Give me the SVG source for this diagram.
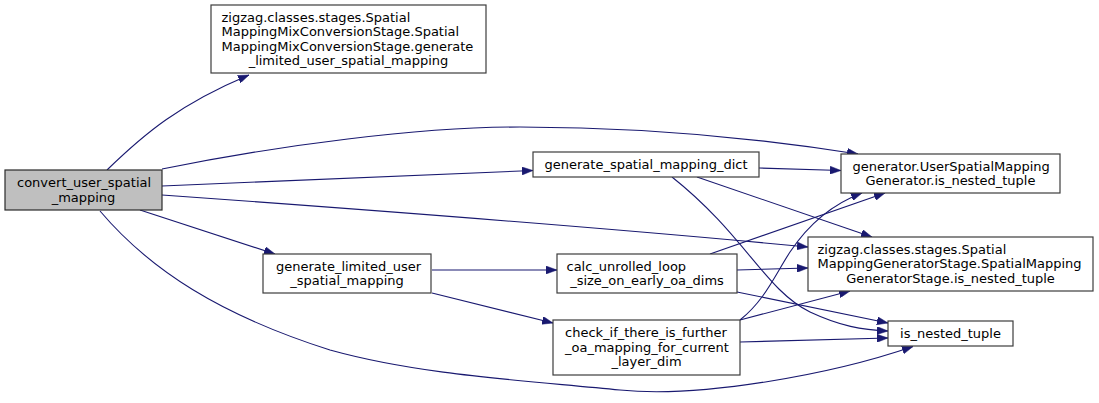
<svg xmlns="http://www.w3.org/2000/svg" width="1099" height="403" viewBox="0 0 1099 403">
<style>
.n rect{fill:#fff;stroke:#3c3c3c;stroke-width:1.2}
.n.root rect{fill:#bfbfbf;stroke:#2a2a2a}
text{font-family:"DejaVu Sans",sans-serif;font-size:13px;fill:#000}
.c{text-anchor:middle}
.e path{fill:none;stroke:#191970;stroke-width:1.1}
</style>
<defs>
<marker id="ah" markerUnits="userSpaceOnUse" viewBox="0 0 11 8" refX="11" refY="4" markerWidth="11" markerHeight="8" orient="auto">
<path d="M0,0 L11,4 L0,8 z" fill="#191970" stroke="#191970" stroke-width="0.5"/>
</marker>
</defs>
<rect width="1099" height="403" fill="#fff"/>
<g class="e" id="connectors">
<path marker-end="url(#ah)" d="M107,170 C145,133 180,104 249,75"/>
<path marker-end="url(#ah)" d="M162,169 C280,145 420,127 520,127 C650,127 770,140 858,154"/>
<path marker-end="url(#ah)" d="M162,186 L533,170.5"/>
<path marker-end="url(#ah)" d="M162,195 C400,212 650,232 808,247"/>
<path marker-end="url(#ah)" d="M140,210 L275,254"/>
<path marker-end="url(#ah)" d="M100,211 C150,270 220,315 330,350 C420,375 520,380 620,390 C700,398 830,375 913,346.5"/>
<path marker-end="url(#ah)" d="M759,168 L841,170.5"/>
<path marker-end="url(#ah)" d="M697,177 L872,237"/>
<path marker-end="url(#ah)" d="M672,177 C745,235 765,290 810,312 C840,326 862,330 888,331"/>
<path marker-end="url(#ah)" d="M432,270 L557,270"/>
<path marker-end="url(#ah)" d="M432,293 L553,323"/>
<path marker-end="url(#ah)" d="M710,254 L885,193"/>
<path marker-end="url(#ah)" d="M737,270 L808,268"/>
<path marker-end="url(#ah)" d="M737,292 L888,323"/>
<path marker-end="url(#ah)" d="M740,320 C765,300 775,275 790,252 C808,225 830,205 862,193"/>
<path marker-end="url(#ah)" d="M740,320 L850,291"/>
<path marker-end="url(#ah)" d="M740,342 L888,338"/>
</g>
<g class="n root" id="convert_user_spatial_mapping">
<rect x="5" y="170" width="157" height="40"/>
<text x="17" y="187.3">convert_user_spatial</text>
<text class="c" x="83.5" y="201.7">_mapping</text>
</g>
<g class="n" id="mix_generate_limited">
<rect x="211" y="5" width="275" height="68"/>
<text x="221.5" y="21.9">zigzag.classes.stages.Spatial</text>
<text x="221.5" y="36.3">MappingMixConversionStage.Spatial</text>
<text x="221.5" y="50.7">MappingMixConversionStage.generate</text>
<text class="c" x="348.5" y="65.1">_limited_user_spatial_mapping</text>
</g>
<g class="n" id="generate_spatial_mapping_dict">
<rect x="533" y="152" width="226" height="25"/>
<text class="c" x="646" y="169">generate_spatial_mapping_dict</text>
</g>
<g class="n" id="user_generator_is_nested_tuple">
<rect x="841" y="154" width="219" height="39"/>
<text x="852.5" y="170.8">generator.UserSpatialMapping</text>
<text class="c" x="950.5" y="185.2">Generator.is_nested_tuple</text>
</g>
<g class="n" id="stage_is_nested_tuple">
<rect x="808" y="237" width="285" height="54"/>
<text x="817.5" y="253.5">zigzag.classes.stages.Spatial</text>
<text x="817.5" y="268">MappingGeneratorStage.SpatialMapping</text>
<text class="c" x="950.5" y="282.5">GeneratorStage.is_nested_tuple</text>
</g>
<g class="n" id="generate_limited_user_spatial_mapping">
<rect x="263" y="254" width="168" height="39"/>
<text x="276" y="270.8">generate_limited_user</text>
<text class="c" x="347" y="285.2">_spatial_mapping</text>
</g>
<g class="n" id="calc_unrolled_loop_size_on_early_oa_dims">
<rect x="557" y="254" width="180" height="39"/>
<text x="566.5" y="270.8">calc_unrolled_loop</text>
<text class="c" x="647" y="285.2">_size_on_early_oa_dims</text>
</g>
<g class="n" id="check_if_there_is_further_oa_mapping">
<rect x="553" y="320" width="187" height="55"/>
<text x="565" y="337">check_if_there_is_further</text>
<text x="565" y="351.5">_oa_mapping_for_current</text>
<text class="c" x="646.5" y="366">_layer_dim</text>
</g>
<g class="n" id="is_nested_tuple">
<rect x="888" y="321" width="125" height="25"/>
<text class="c" x="950.5" y="338">is_nested_tuple</text>
</g>
</svg>
